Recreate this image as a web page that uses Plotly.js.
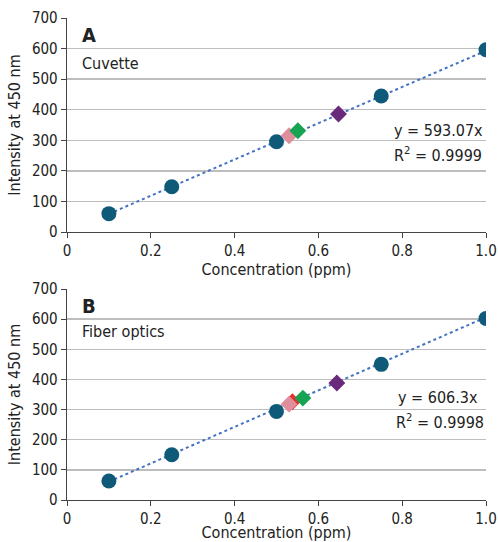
<!DOCTYPE html>
<html><head><meta charset="utf-8">
<script src="https://cdn.plot.ly/plotly-3.0.1.min.js"></script>
<style>body{margin:0;padding:0;background:#fff}#chart{width:498px;height:542px}</style>
</head><body><div id="chart"></div>
<script>
// Panel A (Cuvette)
const concA = [0.1, 0.25, 0.5, 0.75, 1.0];
const intA = [60, 148, 295, 445, 596];
const slopeA = 593.07;
const pinkA = {x: [0.53], y: [315]};
const greenA = {x: [0.551], y: [331]};
const purpleA = {x: [0.648], y: [386]};
// Panel B (Fiber optics)
const concB = [0.1, 0.25, 0.5, 0.75, 1.0];
const intB = [63, 150, 294, 450, 602];
const slopeB = 606.3;
const redB = {x: [0.538], y: [326]};
const pinkB = {x: [0.53], y: [318]};
const greenB = {x: [0.563], y: [338]};
const purpleB = {x: [0.644], y: [388]};
const trendX = [0.1, 1.0];
const yTicks = [0, 100, 200, 300, 400, 500, 600, 700];
const xTicks = [0, 0.2, 0.4, 0.6, 0.8, 1.0];
const xTickText = ['0', '0.2', '0.4', '0.6', '0.8', '1.0'];

const FONT = '"DejaVu Sans Condensed", "Liberation Sans Narrow", sans-serif';
const circ = '#0f5a79';
function dia(p, color, xa, ya){
  return {x:p.x, y:p.y, xaxis:xa, yaxis:ya, mode:'markers', type:'scatter',
    marker:{symbol:'diamond', size:13, color:color}, hoverinfo:'skip'};
}
const traces = [
  {x: trendX, y: trendX.map(v=>v*slopeA), xaxis:'x', yaxis:'y', mode:'lines', type:'scatter',
   line:{color:'#4472c4', width:2, dash:'dot'}},
  {x: concA, y: intA, xaxis:'x', yaxis:'y', mode:'markers', type:'scatter', marker:{size:15, color:circ}},
  dia(pinkA, '#df8f9b', 'x', 'y'),
  dia(greenA, '#17a452', 'x', 'y'),
  dia(purpleA, '#6a2a7b', 'x', 'y'),
  {x: trendX, y: trendX.map(v=>v*slopeB), xaxis:'x2', yaxis:'y2', mode:'lines', type:'scatter',
   line:{color:'#4472c4', width:2, dash:'dot'}},
  {x: concB, y: intB, xaxis:'x2', yaxis:'y2', mode:'markers', type:'scatter', marker:{size:15, color:circ}},
  dia(redB, '#e8302a', 'x2', 'y2'),
  dia(pinkB, '#df8f9b', 'x2', 'y2'),
  dia(greenB, '#17a452', 'x2', 'y2'),
  dia(purpleB, '#6a2a7b', 'x2', 'y2')
];
function xax(anchor){
  return {anchor:anchor, domain:[67/498, 486/498], range:[0,1], tickvals:xTicks, ticktext:xTickText,
    showgrid:false, zeroline:false, showline:true, linecolor:'#444', linewidth:1.3,
    ticks:'outside', ticklen:5, tickcolor:'#444', tickfont:{family:FONT, size:15, color:'#222'},
    ticklabeloverflow:'allow',
    title:{text:'Concentration (ppm)', font:{family:FONT, size:16, color:'#222'}, standoff:3}};
}
function yax(anchor, dom){
  return {anchor:anchor, domain:dom, range:[0,700], tickvals:yTicks,
    showgrid:true, gridcolor:'#bdbdbd', gridwidth:1.3, zeroline:false, showline:true, linecolor:'#444', linewidth:1.3,
    ticks:'outside', ticklen:5, tickcolor:'#444', tickfont:{family:FONT, size:15, color:'#222'},
    ticklabeloverflow:'allow',
    title:{text:'Intensity at 450 nm', font:{family:FONT, size:16, color:'#222'}, standoff:7}};
}
const ann = (t, x, y, xr, yr, size, bold) => ({text: bold?'<b>'+t+'</b>':t, x:x, y:y, xref:xr, yref:yr,
  showarrow:false, xanchor:'left', yanchor:'middle', font:{family:FONT, size:size, color:'#222'}});
const layout = {
  width:498, height:542, margin:{l:0, r:0, t:0, b:0}, showlegend:false,
  paper_bgcolor:'#fff', plot_bgcolor:'#fff',
  xaxis: xax('y'), yaxis: yax('x', [1-232/542, 1-18/542]),
  xaxis2: xax('y2'), yaxis2: yax('x2', [1-500/542, 1-289/542]),
  annotations:[
    ann('A', 0.03, 643, 'x', 'y', 20, true),
    ann('Cuvette', 0.03, 550, 'x', 'y', 16, false),
    ann('y = 593.07x', 0.775, 333, 'x', 'y', 16, false),
    ann('R<sup>2</sup> = 0.9999', 0.775, 255, 'x', 'y', 16, false),
    ann('B', 0.03, 643, 'x2', 'y2', 20, true),
    ann('Fiber optics', 0.03, 560, 'x2', 'y2', 16, false),
    ann('y = 606.3x', 0.786, 340, 'x2', 'y2', 16, false),
    ann('R<sup>2</sup> = 0.9998', 0.78, 262, 'x2', 'y2', 16, false)
  ]
};
Plotly.newPlot('chart', traces, layout, {displayModeBar:false, staticPlot:true});
</script></body></html>
